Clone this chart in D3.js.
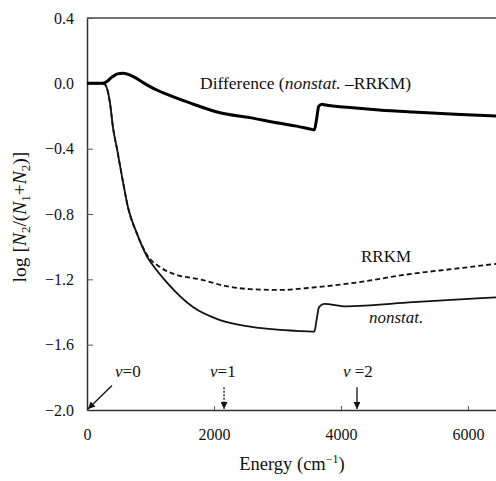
<!DOCTYPE html>
<html><head><meta charset="utf-8">
<script src="https://cdn.jsdelivr.net/npm/d3@7"></script>
</head>
<body style="margin:0;background:#fff"><svg id="c" width="496" height="481"></svg>
<script>
// ---- data ----
const xTicks = [0, 2000, 4000, 6000];
const yTicks = [0.4, 0.0, -0.4, -0.8, -1.2, -1.6, -2.0];
const diffE = [0, 250, 300, 400, 480, 560, 650, 760, 870, 992, 1150, 1310, 1620, 2095, 2567, 3040, 3300, 3540, 3580, 3615, 3650, 3700, 3760, 4140, 4600, 5130, 5800, 6441];
const diffV = [0, 0, 0.008, 0.04, 0.058, 0.062, 0.055, 0.035, 0.008, -0.02, -0.05, -0.075, -0.12, -0.18, -0.21, -0.245, -0.262, -0.282, -0.285, -0.22, -0.14, -0.128, -0.133, -0.148, -0.163, -0.176, -0.19, -0.2];
const rrkmE = [0, 250, 290, 362, 409, 472, 551, 646, 787, 945, 1150, 1386, 1780, 2174, 2567, 3040, 3560, 4140, 5134, 5800, 6441];
const rrkmV = [0, 0, -0.01, -0.12, -0.27, -0.40, -0.57, -0.76, -0.92, -1.05, -1.125, -1.17, -1.2, -1.24, -1.26, -1.265, -1.25, -1.225, -1.165, -1.135, -1.105];
const nonE = [0, 250, 290, 362, 409, 472, 551, 646, 787, 945, 1050, 1260, 1669, 2095, 2567, 3040, 3300, 3540, 3580, 3615, 3654, 3733, 4079, 5134, 6441];
const nonV = [0, 0, -0.01, -0.12, -0.27, -0.40, -0.57, -0.76, -0.92, -1.06, -1.12, -1.22, -1.37, -1.45, -1.49, -1.51, -1.515, -1.52, -1.52, -1.45, -1.37, -1.35, -1.365, -1.34, -1.31];
const levelNames = ["0", "1", "2"];
const levelE = [0, 2158, 4252];

// ---- layout ----
const FONT = '"Liberation Serif", "Times New Roman", Times, serif';
const svg = d3.select("#c");
const L = 87, T = 18, B = 410, R = 496;
const x = d3.scaleLinear().domain([0, 6441]).range([L, R]);
const y = d3.scaleLinear().domain([-2.0, 0.4]).range([B, T]);

svg.append("line").attr("x1", L).attr("x2", R).attr("y1", T).attr("y2", T)
  .attr("stroke", "#444").attr("stroke-width", 1.3);

const yAxis = d3.axisLeft(y).tickValues(yTicks).tickSizeInner(-6).tickSizeOuter(0).tickPadding(13)
  .tickFormat(d => (d < 0 ? "\u2212" : "") + Math.abs(d).toFixed(1));
const gy = svg.append("g").attr("transform", `translate(${L},0)`).call(yAxis);
gy.select(".domain").attr("stroke", "#333").attr("stroke-width", 1.5);
gy.selectAll(".tick line").attr("stroke", "#555").attr("stroke-width", 1);
gy.selectAll(".tick text").attr("font-size", 16).style("font-family", FONT).attr("fill", "#111");

const xAxis = d3.axisBottom(x).tickValues(xTicks).tickSizeInner(-4).tickSizeOuter(0).tickPadding(19)
  .tickFormat(d3.format("d"));
const gx = svg.append("g").attr("transform", `translate(0,${B})`).call(xAxis);
gx.select(".domain").attr("stroke", "#333").attr("stroke-width", 1.5);
gx.selectAll(".tick line").attr("stroke", "#555").attr("stroke-width", 1);
gx.selectAll(".tick text").attr("font-size", 16).style("font-family", FONT).attr("fill", "#111");
gx.selectAll(".tick").filter(d => d === 0).select("line").remove();

const line = d3.line().x(d => x(d[0])).y(d => y(d[1])).curve(d3.curveMonotoneX);
const zip = (a, b) => a.map((v, i) => [v, b[i]]);
const plot = svg.append("g");
plot.append("path").datum(zip(rrkmE, rrkmV)).attr("d", line)
  .attr("fill", "none").attr("stroke", "#111").attr("stroke-width", 1.8).attr("stroke-dasharray", "5,3");
plot.append("path").datum(zip(nonE, nonV)).attr("d", line)
  .attr("fill", "none").attr("stroke", "#111").attr("stroke-width", 1.8);
plot.append("path").datum(zip(diffE, diffV)).attr("d", line)
  .attr("fill", "none").attr("stroke", "#000").attr("stroke-width", 3).attr("stroke-linejoin", "round");

function txt(sel) { return sel.style("font-family", FONT).attr("fill", "#111"); }

const dl = txt(svg.append("text").attr("x", 200).attr("y", 89).attr("font-size", 17.5));
dl.append("tspan").text("Difference (");
dl.append("tspan").attr("font-style", "italic").text("nonstat.");
dl.append("tspan").text(" \u2013RRKM)");
txt(svg.append("text").attr("x", 361).attr("y", 262).attr("font-size", 17).text("RRKM"));
txt(svg.append("text").attr("x", 369).attr("y", 323).attr("font-size", 17).attr("font-style", "italic").text("nonstat."));

const defs = svg.append("defs");
defs.append("marker").attr("id", "ah").attr("viewBox", "0 0 10 10").attr("refX", 10).attr("refY", 5)
  .attr("markerWidth", 9).attr("markerHeight", 7).attr("markerUnits", "userSpaceOnUse").attr("orient", "auto")
  .append("path").attr("d", "M0,0 L10,5 L0,10 Z").attr("fill", "#111");

levelE.forEach((e, i) => {
  const g = svg.append("g");
  if (i === 0) {
    g.append("line").attr("x1", x(e) + 25).attr("y1", y(-1.85)).attr("x2", x(e) + 1).attr("y2", B - 1)
      .attr("stroke", "#111").attr("stroke-width", 1.3).attr("marker-end", "url(#ah)");
  } else {
    g.append("line").attr("x1", x(e)).attr("y1", y(-1.86)).attr("x2", x(e)).attr("y2", B - 1)
      .attr("stroke", "#111").attr("stroke-width", 1.3).attr("marker-end", "url(#ah)")
      .attr("stroke-dasharray", i === 1 ? "2,1.5" : null);
  }
  const lx = i === 0 ? x(e) + 28 : x(e) - 14;
  const t = txt(g.append("text").attr("x", lx).attr("y", 377).attr("font-size", 17));
  t.append("tspan").attr("font-style", "italic").text("v");
  t.append("tspan").text((i === 2 ? " " : "") + "=" + levelNames[i]);
});

const xt = txt(svg.append("text").attr("x", 292).attr("y", 470).attr("text-anchor", "middle").attr("font-size", 18.5));
xt.append("tspan").text("Energy (cm");
xt.append("tspan").attr("font-size", 12).attr("dy", -7).text("\u22121");
xt.append("tspan").attr("dy", 7).text(")");

const yt = txt(svg.append("text").attr("transform", "translate(26,217) rotate(-90)").attr("text-anchor", "middle").attr("font-size", 19.5));
yt.append("tspan").text("log [");
yt.append("tspan").attr("font-style", "italic").text("N");
yt.append("tspan").attr("font-size", 13).attr("dy", 4).text("2");
yt.append("tspan").attr("dy", -4).text("/(");
yt.append("tspan").attr("font-style", "italic").text("N");
yt.append("tspan").attr("font-size", 13).attr("dy", 4).text("1");
yt.append("tspan").attr("dy", -4).text("+");
yt.append("tspan").attr("font-style", "italic").text("N");
yt.append("tspan").attr("font-size", 13).attr("dy", 4).text("2");
yt.append("tspan").attr("dy", -4).text(")]");
</script>
</body></html>
